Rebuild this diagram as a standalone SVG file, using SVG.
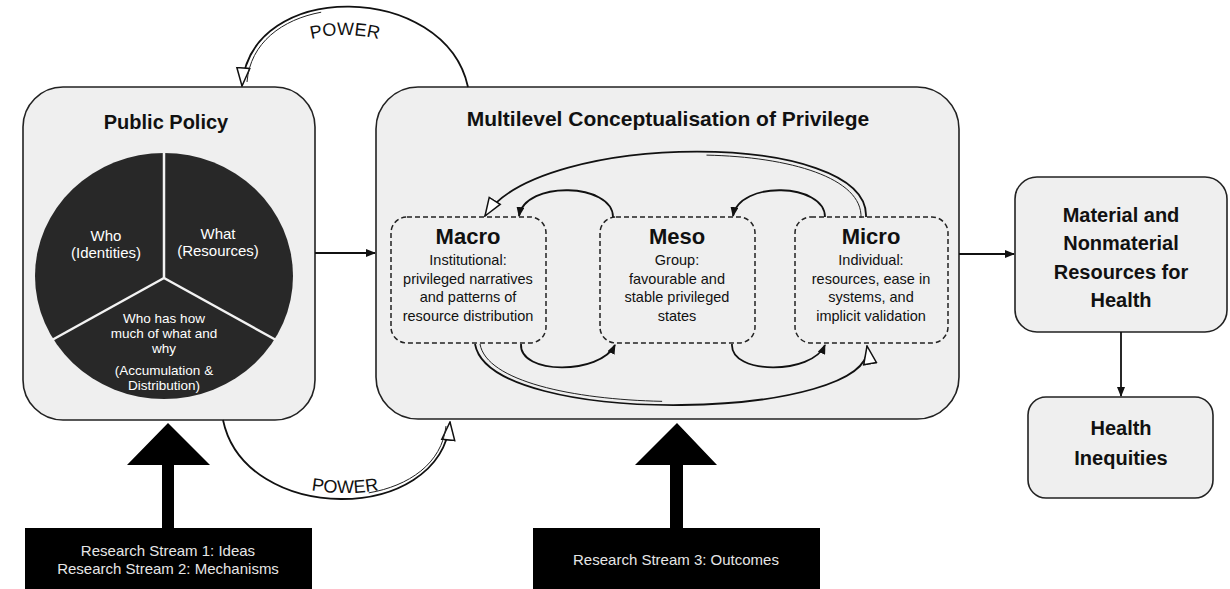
<svg xmlns="http://www.w3.org/2000/svg" width="1230" height="589" viewBox="0 0 1230 589">
<defs>
<style>
text{font-family:"Liberation Sans",Arial,sans-serif;fill:#111;text-anchor:middle}
.box{fill:#efefef;stroke:#222;stroke-width:1.6}
.dash{fill:#efefef;stroke:#222;stroke-width:1.5;stroke-dasharray:5 3}
.conn{fill:none;stroke:#111;stroke-width:1.8}
.thin{fill:none;stroke:#222;stroke-width:1}
.h1{font-size:20px;font-weight:bold}
.lvl{font-size:22px;font-weight:bold}
.body{font-size:14.5px}
.pie{fill:#fff}
.rs{font-size:15px;fill:#e6e6e6}
.pw{font-size:18px}
</style>
<marker id="hollow" viewBox="0 0 20 16" refX="19" refY="8" markerWidth="20" markerHeight="16" markerUnits="userSpaceOnUse" orient="auto"><path d="M1,1.5 L19,8 L1,14.5 Z" fill="#fff" stroke="#111" stroke-width="1.5"/></marker>
<marker id="solid" viewBox="0 0 10 8" refX="9" refY="4" markerWidth="10" markerHeight="8" markerUnits="userSpaceOnUse" orient="auto"><path d="M0,0 L10,4 L0,8 Z" fill="#111"/></marker>
<path id="pwTop" d="M290,46 Q345,24 400,46"/>
<path id="pwBot" d="M300,488 Q345,498 390,488"/>
</defs>
<rect width="1230" height="589" fill="#fff"/>

<g id="public-policy">
<rect class="box" x="23" y="87" width="292" height="333" rx="40"/>
<text class="h1" x="166" y="129">Public Policy</text>
<ellipse cx="164" cy="276" rx="129" ry="123" fill="#282828"/>
<g stroke="#f2f2f2" stroke-width="2.5">
<line x1="164" y1="278" x2="164" y2="153"/>
<line x1="164" y1="278" x2="52" y2="340"/>
<line x1="164" y1="278" x2="276" y2="340"/>
</g>
<text class="pie" font-size="15" x="106" y="241">Who</text>
<text class="pie" font-size="15" x="106" y="258">(Identities)</text>
<text class="pie" font-size="15" x="218" y="239">What</text>
<text class="pie" font-size="15" x="218" y="256">(Resources)</text>
<text class="pie" font-size="13.5" x="164" y="323">Who has how</text>
<text class="pie" font-size="13.5" x="164" y="338">much of what and</text>
<text class="pie" font-size="13.5" x="164" y="353">why</text>
<text class="pie" font-size="13.5" x="164" y="375">(Accumulation &amp;</text>
<text class="pie" font-size="13.5" x="164" y="390">Distribution)</text>
</g>

<g id="multilevel">
<rect class="box" x="376" y="87" width="583" height="332" rx="42"/>
<text x="668" y="126" font-size="21" font-weight="bold">Multilevel Conceptualisation of Privilege</text>
</g>

<g id="macro">
<rect class="dash" x="391" y="217" width="155" height="126" rx="16"/>
<text class="lvl" x="468" y="244">Macro</text>
<text class="body" x="468" y="265">Institutional:</text>
<text class="body" x="468" y="284">privileged narratives</text>
<text class="body" x="468" y="302">and patterns of</text>
<text class="body" x="468" y="321">resource distribution</text>
</g>

<g id="meso">
<rect class="dash" x="600" y="217" width="155" height="126" rx="16"/>
<text class="lvl" x="677" y="244">Meso</text>
<text class="body" x="677" y="265">Group:</text>
<text class="body" x="677" y="284">favourable and</text>
<text class="body" x="677" y="302">stable privileged</text>
<text class="body" x="677" y="321">states</text>
</g>

<g id="micro">
<rect class="dash" x="795" y="217" width="153" height="126" rx="16"/>
<text class="lvl" x="871" y="244">Micro</text>
<text class="body" x="871" y="265">Individual:</text>
<text class="body" x="871" y="284">resources, ease in</text>
<text class="body" x="871" y="302">systems, and</text>
<text class="body" x="871" y="321">implicit validation</text>
</g>

<g id="material">
<rect class="box" x="1015" y="177" width="212" height="155" rx="22"/>
<text class="h1" x="1121" y="222">Material and</text>
<text class="h1" x="1121" y="250">Nonmaterial</text>
<text class="h1" x="1121" y="279">Resources for</text>
<text class="h1" x="1121" y="307">Health</text>
</g>

<g id="health-inequities">
<rect class="box" x="1028" y="397" width="185" height="101" rx="18"/>
<text class="h1" x="1121" y="435">Health</text>
<text class="h1" x="1121" y="465">Inequities</text>
</g>

<g id="stream-1-2">
<rect x="25" y="528" width="287" height="70" fill="#000"/>
<text class="rs" x="168" y="556">Research Stream 1: Ideas</text>
<text class="rs" x="168" y="574">Research Stream 2: Mechanisms</text>
</g>

<g id="stream-3">
<rect x="533" y="528" width="287" height="70" fill="#000"/>
<text class="rs" x="676" y="565">Research Stream 3: Outcomes</text>
</g>

<g id="connectors">
<path class="conn" d="M315,253 L375,253" marker-end="url(#solid)"/>
<path class="conn" d="M959,254 L1014,254" marker-end="url(#solid)"/>
<path class="conn" d="M1121,332 L1121,396" marker-end="url(#solid)"/>
<path class="conn" d="M468,87 C445,-18 250,-22 242,86" marker-end="url(#hollow)"/>
<path class="thin" d="M247,82 C255,-16 442,-14 464,87" stroke-dasharray="110 2000"/>
<path class="conn" d="M223,420 C245,525 440,525 450,422" marker-end="url(#hollow)"/>
<path class="thin" d="M446,426 C436,519 247,519 227,420" stroke-dasharray="110 2000"/>
<text class="pw"><textPath href="#pwTop" startOffset="50%">POWER</textPath></text>
<text class="pw" font-size="17"><textPath href="#pwBot" startOffset="50%">POWER</textPath></text>
<path class="conn" d="M866,217 C870,130 540,130 485,216" marker-end="url(#hollow)"/>
<path class="thin" d="M861,218 C865,134 540,134 487,218" stroke-dasharray="180 2000"/>
<path class="conn" d="M613,217 C613,183 525,180 519,216" marker-end="url(#solid)"/>
<path class="conn" d="M825,217 C825,183 739,180 733,216" marker-end="url(#solid)"/>
<path class="conn" d="M521,344 C519,375 600,375 615,345" marker-end="url(#solid)"/>
<path class="conn" d="M732,344 C730,375 812,375 825,345" marker-end="url(#solid)"/>
<path class="conn" d="M475,344 C490,430 880,420 867,346" marker-end="url(#hollow)"/>
<path class="thin" d="M480,344 C494,424 876,416 864,348" stroke-dasharray="200 2000"/>
<path d="M162,465 L127,465 L168,423 L210,465 L174,465 L174,528 L162,528 Z" fill="#000"/>
<path d="M670,465 L635,465 L677,423 L717,465 L683,465 L683,528 L670,528 Z" fill="#000"/>
</g>
</svg>
